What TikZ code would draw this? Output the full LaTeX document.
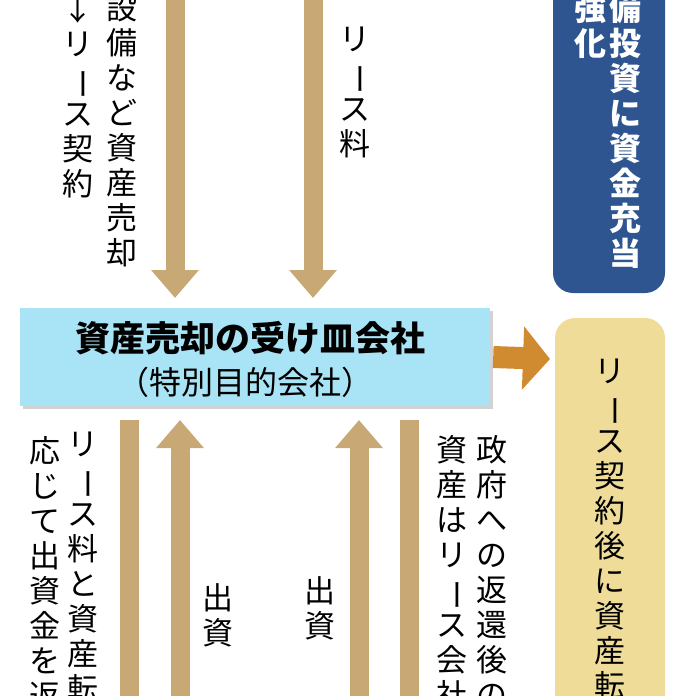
\documentclass[tikz,border=0pt]{standalone}
\usepackage{fontspec}
\setmainfont{Noto Sans CJK JP}
\usetikzlibrary{arrows.meta,shadows}
\definecolor{flowtan}{HTML}{C8A874}
\definecolor{spcyan}{HTML}{A8E4F5}
\definecolor{navybox}{HTML}{2E5590}
\definecolor{sandbox}{HTML}{EEDC98}
\definecolor{pushorange}{HTML}{D08A30}
\newcommand{\vbar}{\rotatebox[origin=c]{-90}{ー}}
\tikzset{
  flow/.style={draw=flowtan, line width=19pt, -{Triangle[width=46pt,length=28pt]}},
  flowline/.style={draw=flowtan, line width=19pt},
  vcol/.style={anchor=north, align=center, inner sep=0pt,
    font=\fontsize{31}{35}\selectfont},
}
\begin{document}
\begin{tikzpicture}[x=1pt,y=-1pt]
  \useasboundingbox (0,0) rectangle (696,696);
  \clip (0,0) rectangle (696,696);
  % special purpose company
  \node[fill=spcyan, drop shadow={shadow xshift=3pt,shadow yshift=-3pt,fill=gray!70},
        minimum width=470pt, minimum height=98pt] (spc) at (255,357) {};
  \node[font=\fontsize{35}{40}\selectfont\bfseries, inner sep=0pt] (spcname) at (250,338)
    {資産売却の受け皿会社};
  \node[font=\fontsize{32}{36}\selectfont, inner sep=0pt] (spckind) at (245,382)
    {（特別目的会社）};
  % top right and right boxes
  \fill[navybox, rounded corners=20pt] (553,-30) rectangle (665,293);
  \fill[sandbox, rounded corners=20pt] (555,318) rectangle (665,740);
  \node[vcol, text=white, font=\fontsize{32}{35}\selectfont\bfseries] (invest) at (625,-7)
    {備\\投\\資\\に\\資\\金\\充\\当};
  \node[vcol, text=white, font=\fontsize{32}{35}\selectfont\bfseries] (power) at (590,-7)
    {強\\化};
  \node[vcol] (after) at (610,359) {リ\\\vbar\\ス\\契\\約\\後\\に\\資\\産\\転};
  % top arrows
  \coordinate (topA) at (175,-10);
  \coordinate (topB) at (313,-10);
  \draw[flow] (topA) -- (175,298);
  \draw[flow] (topB) -- (313,298);
  \node[vcol] (sale) at (122,-6) {設\\備\\な\\ど\\資\\産\\売\\却};
  \node[vcol] (lease) at (78,-6) {↓\\リ\\\vbar\\ス\\契\\約};
  \node[vcol] (fee) at (355,27) {リ\\\vbar\\ス\\料};
  % orange arrow
  \coordinate (push) at (550,359);
  \draw[draw=pushorange, line width=22pt, -{Triangle[width=62pt,length=27pt]}]
    (spc.east) ++(3,0) -- (push);
  % bottom arrows
  \coordinate (botA) at (129,710);
  \coordinate (botB) at (180,710);
  \coordinate (botC) at (359,710);
  \coordinate (botD) at (409,710);
  \draw[flowline] (129,420) -- (botA);
  \draw[flow] (botB) -- (180,420);
  \draw[flow] (botC) -- (359,420);
  \draw[flowline] (409,420) -- (botD);
  \node[vcol] (refund) at (83,432) {リ\\\vbar\\ス\\料\\と\\資\\産\\転};
  \node[vcol] (repay) at (45,436) {応\\じ\\て\\出\\資\\金\\を\\返};
  \node[vcol] (fundA) at (218,583) {出\\資};
  \node[vcol] (fundB) at (320,576) {出\\資};
  \node[vcol] (govt) at (492,435) {政\\府\\へ\\の\\返\\還\\後\\の};
  \node[vcol] (asset) at (452,435) {資\\産\\は\\リ\\\vbar\\ス\\会\\社};
\end{tikzpicture}
\end{document}
